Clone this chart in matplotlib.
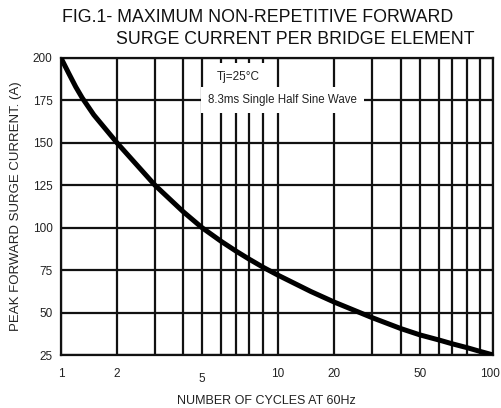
import numpy as np
import matplotlib
matplotlib.use('Agg')
import matplotlib.pyplot as plt
import matplotlib.transforms as mtransforms

plt.rcParams['font.family'] = ['Liberation Sans', 'DejaVu Sans']

# values
cycles = [1, 1.1, 1.2, 1.3, 1.5, 2, 3, 4, 5, 6, 7, 8, 9, 10,
          15, 20, 30, 40, 50, 60, 70, 80, 90, 100]
current = [200, 191, 183, 176.5, 166.5, 150, 125, 109.5, 100, 92, 86.2, 81.5, 76.7, 72,
           62.4, 56.2, 47, 40.5, 36.8, 33.8, 31.6, 29.3, 27.1, 25]

x_grid = [1, 2, 3, 4, 5, 6, 7, 8, 9, 10, 20, 30, 40, 50, 60, 70, 80, 90, 100]
x_labels = [1, 2, 5, 10, 20, 50, 100]
y_ticks = [25, 50, 75, 100, 125, 150, 175, 200]

# the printed log paper is not evenly ruled: where each grid line sits (axes fraction)
grid_frac = np.array([0, 56, 94, 122, 141, 160, 175, 188, 202, 217,
                      273, 311, 340, 359, 378, 391, 406, 419, 432]) / 432.0
log_grid = np.log10(x_grid)


def paper_fwd(x):
    x = np.clip(np.asarray(x, dtype=float), 1e-3, None)
    return np.interp(np.log10(x), log_grid, grid_frac, left=-1, right=2)


def paper_inv(f):
    return 10 ** np.interp(f, grid_frac, log_grid)


fig = plt.figure(figsize=(5.02, 4.08), dpi=100)
ax = fig.add_axes([0.1215, 0.1299, 0.861, 0.728])

ax.set_xscale('function', functions=(paper_fwd, paper_inv))
ax.set_xlim(1, 100)
ax.set_ylim(25, 200)

# grid drawn by hand so every cycle line shows
for gx in x_grid:
    ax.axvline(gx, color='#111111', lw=1.6, zorder=1)
for gy in y_ticks:
    ax.axhline(gy, color='#111111', lw=1.6, zorder=1)

ax.plot(cycles, current, color='black', lw=3.6, solid_capstyle='round',
        solid_joinstyle='round', zorder=3)

ax.set_xticks(x_labels)
ax.set_xticklabels([str(v) for v in x_labels])
ax.xaxis.set_minor_locator(matplotlib.ticker.NullLocator())
ax.set_yticks(y_ticks)
ax.tick_params(length=0, labelsize=8.5, pad=6, colors='#222222')
ax.tick_params(axis='x', pad=9)
labels = ax.get_xticklabels()
# nudge the last label so it stays inside the figure, and drop the "5" a little
labels[-1].set_transform(labels[-1].get_transform() +
                         mtransforms.ScaledTranslation(-3 / 100, 0, fig.dpi_scale_trans))
labels[2].set_transform(labels[2].get_transform() +
                        mtransforms.ScaledTranslation(0, -5 / 100, fig.dpi_scale_trans))
for sp in ax.spines.values():
    sp.set_linewidth(1.6)
    sp.set_color('#111111')

ax.set_xlabel('NUMBER OF CYCLES AT 60Hz', fontsize=9, color='#222222')
ax.xaxis.set_label_coords(0.475, -0.135)
ax.set_ylabel('PEAK FORWARD SURGE CURRENT. (A)', fontsize=9.5, labelpad=8, color='#222222')

ax.text(0.361, 0.936, 'Tj=25°C', transform=ax.transAxes, fontsize=8.5,
        color='#222222', ha='left', va='center', zorder=4,
        bbox=dict(facecolor='white', edgecolor='none', pad=6))
ax.text(0.340, 0.859, '8.3ms Single Half Sine Wave', transform=ax.transAxes,
        fontsize=8.3, color='#222222', ha='left', va='center', zorder=4,
        bbox=dict(facecolor='white', edgecolor='none', pad=5))

fig.text(0.124, 0.958, 'FIG.1- MAXIMUM NON-REPETITIVE FORWARD', fontsize=12.8,
         color='#111111', ha='left', va='center')
fig.text(0.231, 0.902, 'SURGE CURRENT PER BRIDGE ELEMENT', fontsize=12.8,
         color='#111111', ha='left', va='center')

fig.savefig('out.png', dpi=100, facecolor='white')
